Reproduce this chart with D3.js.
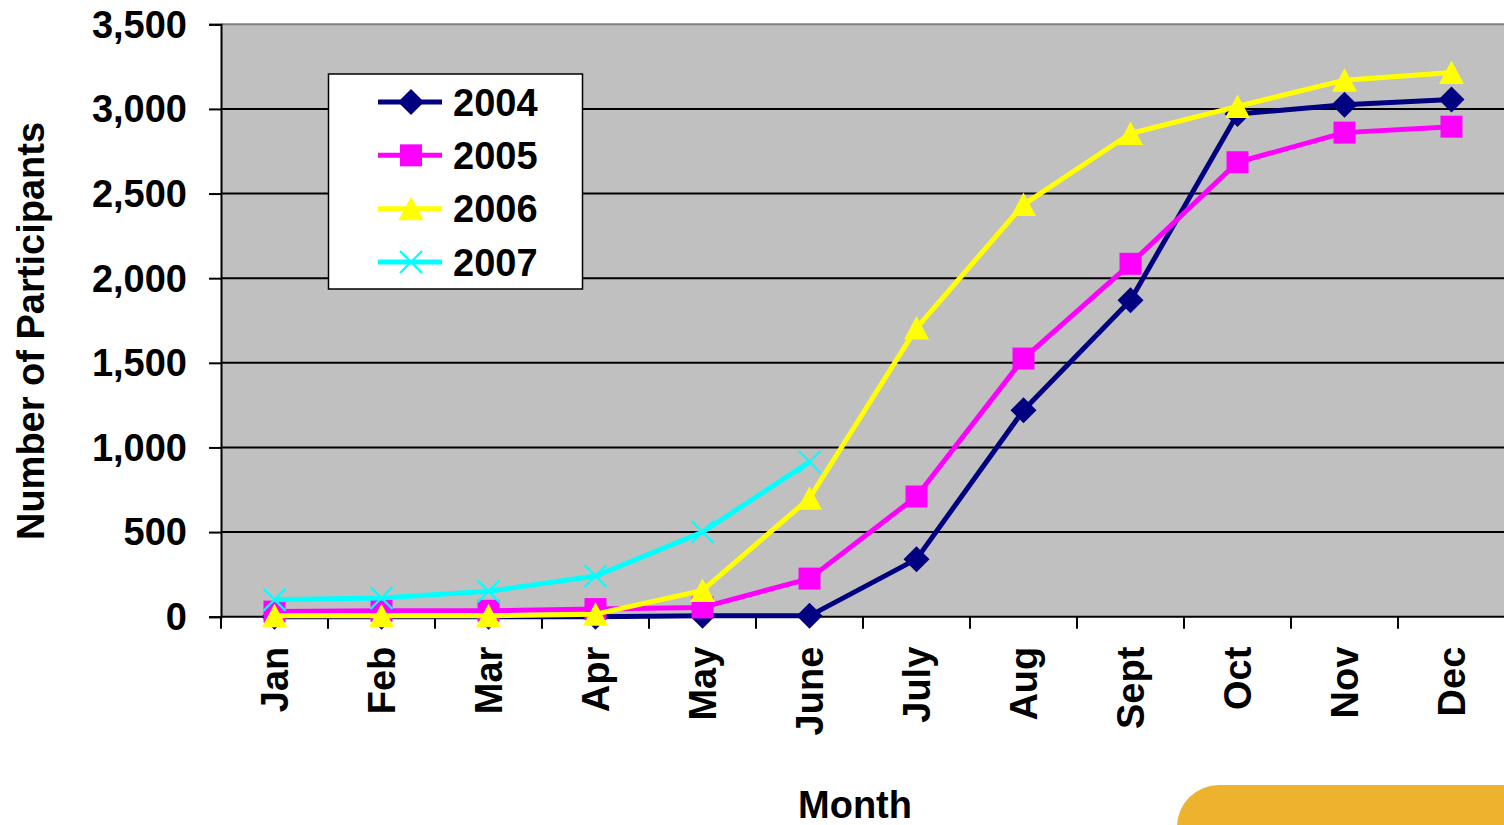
<!DOCTYPE html>
<html>
<head>
<meta charset="utf-8">
<script src="https://cdn.jsdelivr.net/npm/d3@7"></script>
<style>
  html, body { margin: 0; padding: 0; background: #fff; overflow: hidden; }
  svg { display: block; font-family: "Liberation Sans", Arial, sans-serif; font-weight: bold; }
</style>
</head>
<body>
<svg id="chart" width="1504" height="825"></svg>
<script>
// Cumulative program participants by month, one series per year
const months = ["Jan", "Feb", "Mar", "Apr", "May", "June", "July", "Aug", "Sept", "Oct", "Nov", "Dec"];
const yTicks = [0, 500, 1000, 1500, 2000, 2500, 3000, 3500];

const values2004 = [0, 0, 0, 0, 5, 5, 340, 1220, 1870, 2970, 3025, 3055];
const values2005 = [30, 35, 35, 45, 55, 225, 710, 1525, 2085, 2685, 2860, 2895];
const values2006 = [5, 5, 5, 15, 155, 700, 1705, 2435, 2855, 3015, 3170, 3215];
const values2007 = [100, 110, 150, 240, 500, 915];

const series = [
  { name: "2004", values: values2004, color: "#000080", marker: "diamond" },
  { name: "2005", values: values2005, color: "#FF00FF", marker: "square" },
  { name: "2006", values: values2006, color: "#FFFF00", marker: "triangle" },
  { name: "2007", values: values2007, color: "#00FFFF", marker: "cross" }
];

const FONT = 38;
const svg = d3.select("#chart");
const plot = { left: 221, right: 1505, top: 24.3, bottom: 616.7 };

const x = d3.scaleBand().domain(months).range([plot.left, plot.right]);
const y = d3.scaleLinear().domain([0, 3500]).range([plot.bottom, plot.top]);
const cx = m => x(m) + x.bandwidth() / 2;

// decorative tab in the lower right corner
svg.append("rect")
  .attr("x", 1177).attr("y", 785)
  .attr("width", 420).attr("height", 120)
  .attr("rx", 42).attr("ry", 42)
  .attr("fill", "#EEB32E");

// plot background
svg.append("rect")
  .attr("x", plot.left).attr("y", plot.top)
  .attr("width", plot.right - plot.left).attr("height", plot.bottom - plot.top)
  .attr("fill", "#C0C0C0");
svg.append("line")
  .attr("x1", plot.left).attr("x2", plot.right)
  .attr("y1", plot.top).attr("y2", plot.top)
  .attr("stroke", "#808080").attr("stroke-width", 2);

// horizontal gridlines
svg.append("g").selectAll("line")
  .data(yTicks.filter(t => t > 0 && t < 3500))
  .join("line")
  .attr("x1", plot.left).attr("x2", plot.right)
  .attr("y1", d => y(d)).attr("y2", d => y(d))
  .attr("stroke", "#000").attr("stroke-width", 2);

// y axis
const yAxis = svg.append("g")
  .attr("transform", `translate(${plot.left},0)`)
  .call(d3.axisLeft(y).tickValues(yTicks).tickFormat(d3.format(",")).tickSize(12).tickPadding(22));
yAxis.select(".domain").attr("stroke", "#000").attr("stroke-width", 2);
yAxis.selectAll(".tick line").attr("stroke", "#000").attr("stroke-width", 2);
yAxis.selectAll(".tick text")
  .attr("font-family", "Liberation Sans, Arial, sans-serif")
  .attr("font-weight", "bold").attr("font-size", FONT).attr("fill", "#000")
  .attr("dy", "0.34em");

// x axis: ticks on category boundaries, labels rotated
const xAxisG = svg.append("g");
xAxisG.append("line")
  .attr("x1", plot.left).attr("x2", plot.right)
  .attr("y1", plot.bottom).attr("y2", plot.bottom)
  .attr("stroke", "#000").attr("stroke-width", 2);
xAxisG.selectAll("line.tk")
  .data(months)
  .join("line").attr("class", "tk")
  .attr("x1", d => x(d)).attr("x2", d => x(d))
  .attr("y1", plot.bottom).attr("y2", plot.bottom + 12)
  .attr("stroke", "#000").attr("stroke-width", 2);
xAxisG.selectAll("text")
  .data(months)
  .join("text")
  .attr("transform", d => `translate(${cx(d)},${plot.bottom + 30}) rotate(-90)`)
  .attr("text-anchor", "end")
  .attr("dy", "0.36em")
  .attr("font-size", FONT)
  .text(d => d);

// axis titles
svg.append("text")
  .attr("transform", `translate(44,331) rotate(-90)`)
  .attr("text-anchor", "middle")
  .attr("font-size", FONT)
  .text("Number of Participants");
svg.append("text")
  .attr("x", 855).attr("y", 818)
  .attr("text-anchor", "middle")
  .attr("font-size", FONT)
  .text("Month");

// marker shapes
function markerPath(type) {
  switch (type) {
    case "diamond": return "M0,-13L13,0L0,13L-13,0Z";
    case "square": return "M-11,-11H11V11H-11Z";
    case "triangle": return "M0,-12L12.5,11.5L-12.5,11.5Z";
    case "cross": return "M-11,-11L11,11M11,-11L-11,11";
  }
}
function drawMarker(sel, s) {
  if (s.marker === "cross") {
    sel.attr("d", markerPath(s.marker)).attr("fill", "none")
      .attr("stroke", s.color).attr("stroke-width", 2.2);
  } else {
    sel.attr("d", markerPath(s.marker)).attr("fill", s.color).attr("stroke", "none");
  }
}

const line = d3.line()
  .x((d, i) => cx(months[i]))
  .y(d => y(d));

series.forEach(s => {
  const g = svg.append("g");
  g.append("path")
    .datum(s.values)
    .attr("d", line)
    .attr("fill", "none")
    .attr("stroke", s.color)
    .attr("stroke-width", 5)
    .attr("stroke-linejoin", "round");
  g.selectAll("path.mk")
    .data(s.values)
    .join("path").attr("class", "mk")
    .attr("transform", (d, i) => `translate(${cx(months[i])},${y(d)})`)
    .call(drawMarker, s);
});

// legend
const legend = svg.append("g");
legend.append("rect")
  .attr("x", 328.5).attr("y", 74)
  .attr("width", 254).attr("height", 215)
  .attr("fill", "#fff").attr("stroke", "#000").attr("stroke-width", 1.5);
const rowY = d3.scalePoint().domain(series.map(s => s.name)).range([102, 262]);
const items = legend.selectAll("g.item")
  .data(series)
  .join("g").attr("class", "item")
  .attr("transform", s => `translate(0,${rowY(s.name)})`);
items.append("line")
  .attr("x1", 378).attr("x2", 442)
  .attr("stroke", d => d.color).attr("stroke-width", 5);
items.append("path")
  .attr("transform", "translate(411,0)")
  .each(function (s) { d3.select(this).call(drawMarker, s); });
items.append("text")
  .attr("x", 453).attr("dy", "0.36em")
  .attr("font-size", FONT)
  .text(d => d.name);
</script>
</body>
</html>
